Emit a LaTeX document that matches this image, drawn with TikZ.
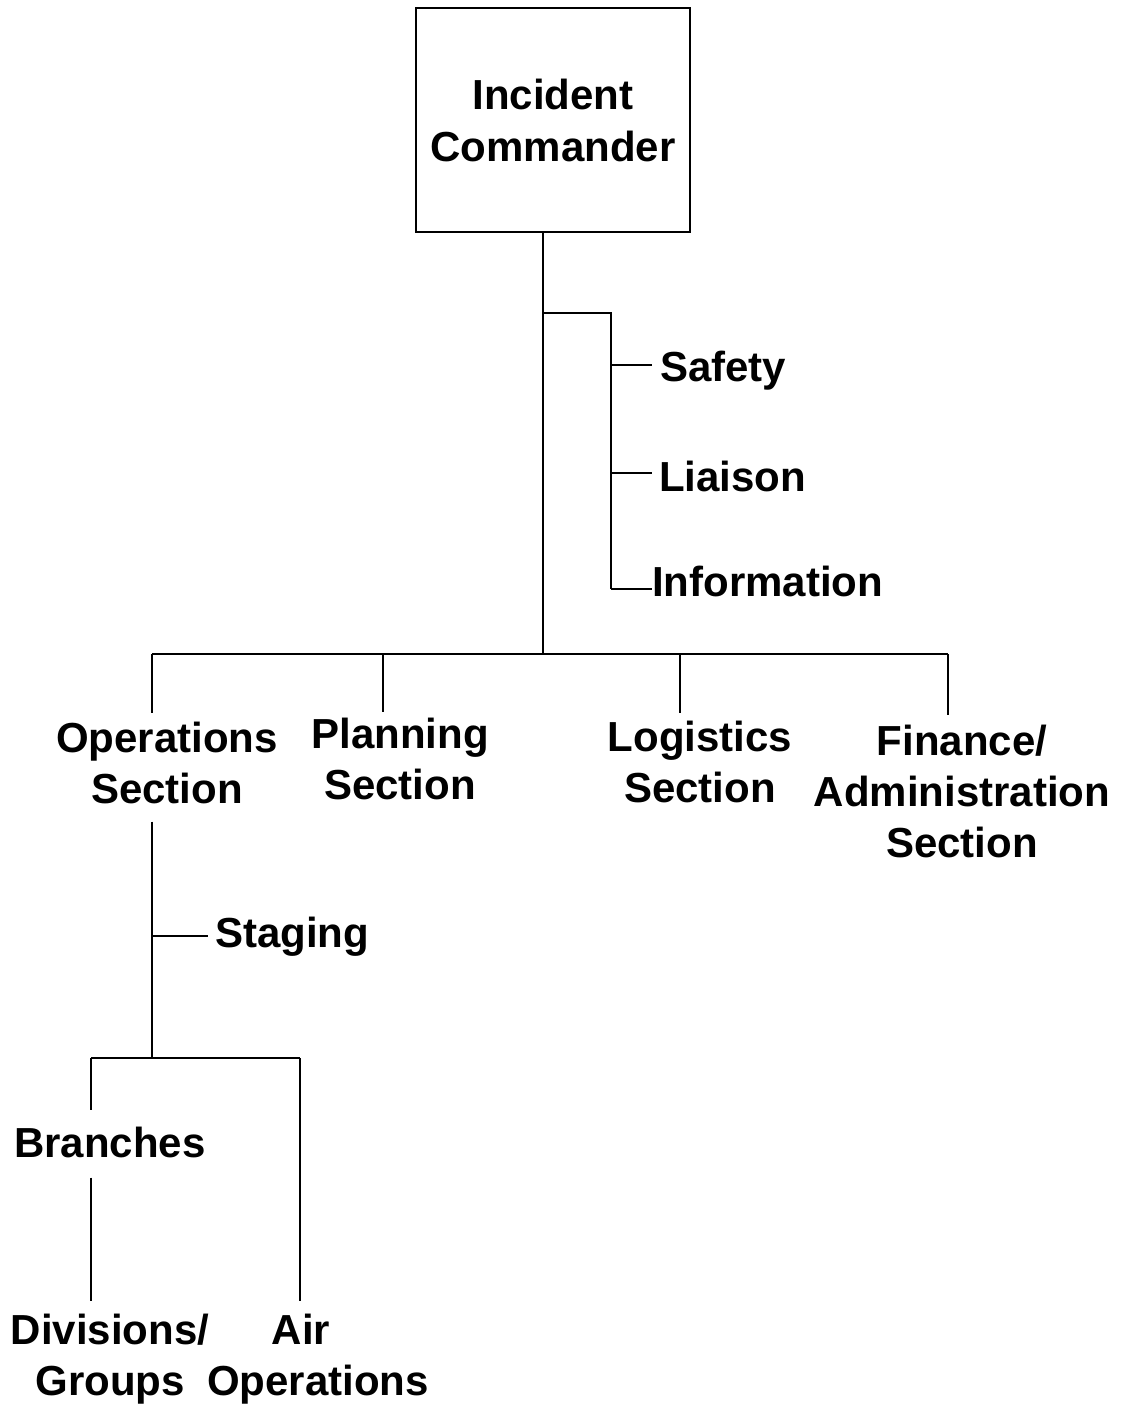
\documentclass[tikz,border=0pt]{standalone}
\usepackage{fontspec}
\setmainfont{Liberation Sans}
\begin{document}
\begin{tikzpicture}[x=1pt,y=1pt,
  lbl/.style={font=\bfseries\fontsize{42}{51}\selectfont, inner sep=0pt, align=center, anchor=base},
  lblw/.style={lbl, anchor=base west},
  conn/.style={line width=2pt},
  boxst/.style={draw, line width=2pt, minimum width=274pt, minimum height=224pt, inner sep=0pt,
    font=\bfseries\fontsize{42}{52}\selectfont, align=center}]
\useasboundingbox (0,0) rectangle (1120,-1406);

% nodes (anchor=base is the baseline of the last line)
\node[boxst] (ic) at (553,-120) {\raisebox{-2pt}{Incident}\\\raisebox{-2pt}{Commander}};
\node[lblw] (safety) at (660,-381) {Safety};
\node[lblw] (liaison) at (659,-491) {Liaison};
\node[lblw] (info) at (652,-596) {Information};
\node[lbl] (ops) at (167,-803) {Operations\\Section};
\node[lbl] (plan) at (400,-799) {Planning\\Section};
\node[lbl] (logi) at (700,-802) {Logistics\\Section};
\node[lbl] (fin) at (962,-857) {Finance/\\Administration\\Section};
\node[lblw] (staging) at (215,-947) {Staging};
\node[lbl] (branches) at (110,-1157) {Branches};
\node[lbl] (div) at (110,-1395) {Divisions/\\Groups};
\node[lbl] (air) at (318,-1395) {Air\hspace*{34pt}\\Operations};

% junction coordinates
\coordinate (st) at (543,-313);
\coordinate (sv) at (611,-313);
\coordinate (k1) at (611,-365);
\coordinate (k2) at (611,-473);
\coordinate (k3) at (611,-589);
\coordinate (bc) at (543,-654);
\coordinate (b1) at (152,-654);
\coordinate (b2) at (383,-654);
\coordinate (b3) at (680,-654);
\coordinate (b4) at (948,-654);
\coordinate (k4) at (152,-936);
\coordinate (j3) at (152,-1058);
\coordinate (c1) at (91,-1058);
\coordinate (c2) at (300,-1058);

% connectors
\draw[conn] (ic.south -| bc) -- (bc);
\draw[conn] (st) -- (sv) -- (k3);
\draw[conn, shorten >=8pt] (k1) -- (k1 -| safety.west);
\draw[conn, shorten >=7pt] (k2) -- (k2 -| liaison.west);
\draw[conn] (k3) -- (k3 -| info.west);
\draw[conn] (b1) -- (b4);
\draw[conn, shorten >=8pt] (b1) -- (b1 |- ops.north);
\draw[conn, shorten >=5pt] (b2) -- (b2 |- plan.north);
\draw[conn, shorten >=7pt] (b3) -- (b3 |- logi.north);
\draw[conn, shorten >=9pt] (b4) -- (b4 |- fin.north);
\draw[conn, shorten <=18pt] (ops.south -| j3) -- (j3);
\draw[conn, shorten >=7pt] (k4) -- (k4 -| staging.west);
\draw[conn] (c1) -- (c2);
\draw[conn, shorten >=16pt] (c1) -- (c1 |- branches.north);
\draw[conn, shorten <=20pt, shorten >=12pt] (branches.south -| c1) -- (c1 |- div.north);
\draw[conn, shorten >=12pt] (c2) -- (c2 |- air.north);
\end{tikzpicture}
\end{document}
